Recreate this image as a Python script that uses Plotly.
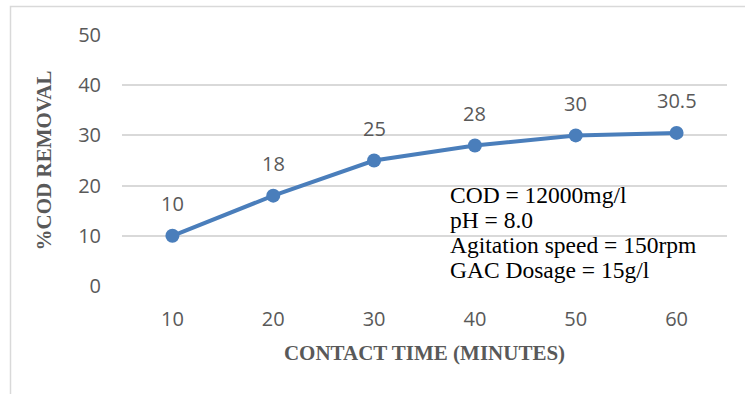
import plotly.graph_objects as go

contact_time = [10, 20, 30, 40, 50, 60]
cod_removal = [10, 18, 25, 28, 30, 30.5]
value_labels = ["10", "18", "25", "28", "30", "30.5"]
y_ticks = [0, 10, 20, 30, 40, 50]
conditions = ["COD = 12000mg/l", "pH = 8.0", "Agitation speed = 150rpm", "GAC Dosage = 15g/l"]

line_color = "#4a7ebb"
gray = "#595959"
tick_font = dict(family="Open Sans, Noto Sans, sans-serif", size=20, color=gray)
serif = "Liberation Serif, Times New Roman, serif"

fig = go.Figure()
fig.add_trace(go.Scatter(
    x=contact_time, y=cod_removal, mode="lines+markers",
    line=dict(color=line_color, width=4),
    marker=dict(color=line_color, size=14),
    showlegend=False, hoverinfo="skip",
))

for xv, yv, lab in zip(contact_time, cod_removal, value_labels):
    fig.add_annotation(x=xv, y=yv, text=lab, showarrow=False, yshift=32,
                       font=tick_font)

line_centers = [195, 220, 245, 270]
for txt, cy in zip(conditions, line_centers):
    fig.add_annotation(xref="paper", yref="paper", x=(448 - 122) / 605, y=(286 - cy) / 251,
                       xanchor="left", yanchor="middle", align="left", showarrow=False,
                       text=txt, font=dict(family=serif, size=23.5, color="black"))

fig.add_shape(type="rect", xref="paper", yref="paper",
              x0=(10.5 - 122) / 605, x1=1.2, y0=-0.6, y1=(286 - 6.5) / 251,
              line=dict(color="#d9d9d9", width=1.5), fillcolor="rgba(0,0,0,0)", layer="below")

fig.update_layout(
    width=745, height=394,
    margin=dict(l=122, r=18, t=35, b=108),
    paper_bgcolor="white", plot_bgcolor="white",
    xaxis=dict(
        range=[5, 65], tickvals=contact_time, ticktext=[str(v) for v in contact_time],
        showgrid=False, zeroline=False, showline=False, ticks="",
        tickfont=tick_font, ticklabelstandoff=19,
        title=dict(text="<b>CONTACT TIME (MINUTES)</b>", standoff=14,
                   font=dict(family=serif, size=21, color=gray)),
    ),
    yaxis=dict(
        range=[0, 50], tickvals=y_ticks, showgrid=True, gridcolor="#d9d9d9", gridwidth=1.5,
        zeroline=False, showline=False, ticks="",
        tickfont=tick_font, ticklabelstandoff=20,
        title=dict(text="<b>%COD REMOVAL</b>", standoff=20,
                   font=dict(family=serif, size=21, color=gray)),
    ),
)

fig.write_html("out.html")
